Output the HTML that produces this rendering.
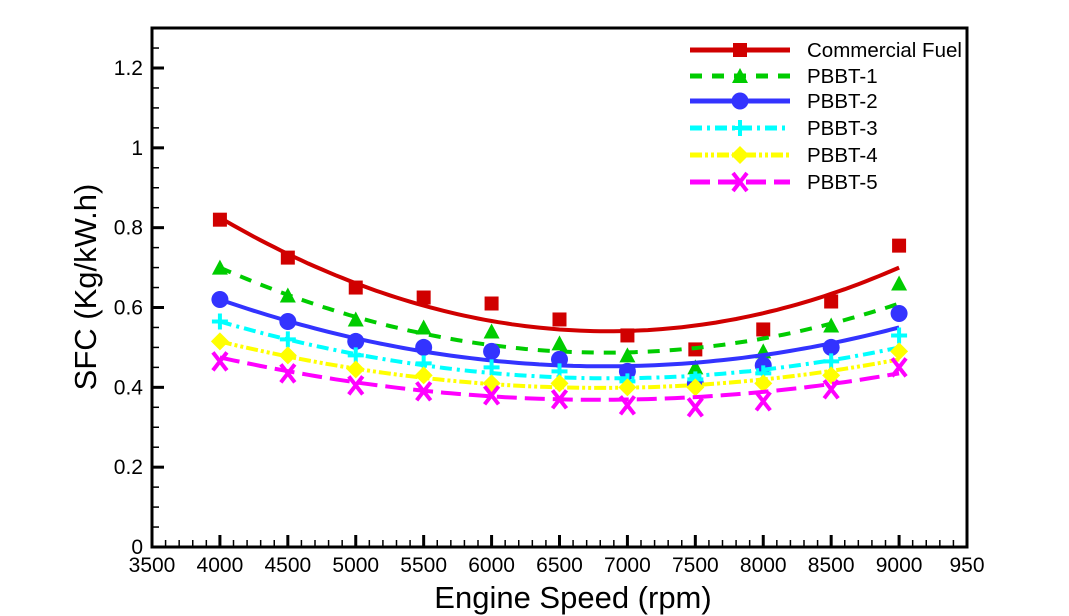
<!DOCTYPE html>
<html><head><meta charset="utf-8"><style>body{margin:0;background:#fff}svg{display:block}text{font-family:"Liberation Sans",Arial,sans-serif}</style></head>
<body>
<svg id="s" width="1069" height="616" xmlns="http://www.w3.org/2000/svg"></svg>
<script>
var s=document.getElementById('s'),h='';
var L=152,R=967,T=28,B=547;
function X(v){return L+(v-3500)*(R-L)/6000}
function Y(v){return B-v*(B-68)/1.2}
for(var x=3500;x<=9500;x+=100){var maj=x%500==0;h+='<line x1="'+X(x)+'" x2="'+X(x)+'" y1="'+B+'" y2="'+(B-(maj?12:7))+'" stroke="#000" stroke-width="'+(maj?3:1.5)+'"/>';}
for(var i=0;i<=26;i++){var v=i*0.05,maj=i%4==0,y=Y(v);if(y<T)break;h+='<line x1="'+L+'" x2="'+(L+(maj?12:7))+'" y1="'+y+'" y2="'+y+'" stroke="#000" stroke-width="'+(maj?3:1.5)+'"/>';}
var yl=['0','0.2','0.4','0.6','0.8','1','1.2'];
for(var i=0;i<7;i++)h+='<text x="143" y="'+(Y(i*0.2)+7)+'" font-size="21" text-anchor="end">'+yl[i]+'</text>';
for(var x=3500;x<=9500;x+=500)h+='<text x="'+X(x)+'" y="572" font-size="21" text-anchor="middle">'+(x==9500?'950':x)+'</text>';
h+='<text x="573" y="608" font-size="31" text-anchor="middle">Engine Speed (rpm)</text>';
h+='<text transform="translate(96,287) rotate(-90)" font-size="31" text-anchor="middle">SFC (Kg/kW.h)</text>';
var S=[
{c:'#d00000',d:'',m:'sq',k:[0.825,0.545,0.70],p:[0.82,0.725,0.65,0.625,0.61,0.57,0.53,0.495,0.545,0.615,0.755],n:'Commercial Fuel'},
{c:'#00cc00',d:'12,10',m:'tri',k:[0.70,0.49,0.61],p:[0.70,0.63,0.57,0.55,0.54,0.51,0.48,0.45,0.49,0.555,0.66],n:'PBBT-1'},
{c:'#3333ff',d:'',m:'ci',k:[0.62,0.455,0.55],p:[0.62,0.565,0.515,0.50,0.49,0.47,0.44,0.41,0.455,0.50,0.585],n:'PBBT-2'},
{c:'#00ffff',d:'12,5,3,5',m:'pl',k:[0.565,0.425,0.50],p:[0.565,0.52,0.48,0.46,0.45,0.44,0.415,0.42,0.435,0.465,0.53],n:'PBBT-3'},
{c:'#ffff00',d:'12,3,3,3,3,3',m:'di',k:[0.515,0.40,0.47],p:[0.515,0.48,0.445,0.43,0.41,0.41,0.40,0.40,0.41,0.43,0.49],n:'PBBT-4'},
{c:'#ff00ff',d:'20,8',m:'x',k:[0.475,0.37,0.435],p:[0.465,0.435,0.405,0.39,0.38,0.37,0.355,0.35,0.365,0.395,0.45],n:'PBBT-5'}];
function mk(t,x,y,c){
 if(t=='sq')return '<rect x="'+(x-7)+'" y="'+(y-7)+'" width="14" height="14" fill="'+c+'"/>';
 if(t=='tri')return '<polygon points="'+x+','+(y-8)+' '+(x-8)+','+(y+7)+' '+(x+8)+','+(y+7)+'" fill="'+c+'"/>';
 if(t=='ci')return '<circle cx="'+x+'" cy="'+y+'" r="8.5" fill="'+c+'"/>';
 if(t=='pl')return '<path d="M'+(x-8)+' '+y+'H'+(x+8)+'M'+x+' '+(y-8)+'V'+(y+8)+'" stroke="'+c+'" stroke-width="4"/>';
 if(t=='di')return '<polygon points="'+x+','+(y-9)+' '+(x+9)+','+y+' '+x+','+(y+9)+' '+(x-9)+','+y+'" fill="'+c+'"/>';
 return '<path d="M'+(x-7)+' '+(y-9)+'L'+(x+7)+' '+(y+9)+'M'+(x+7)+' '+(y-9)+'L'+(x-7)+' '+(y+9)+'" stroke="'+c+'" stroke-width="4"/>';
}
S.forEach(function(o,j){
 var a=o.k[0],b=o.k[1],c=o.k[2];
 var A=(a+c)/2-b,Bq=(c-a)/2,pts=[];
 for(var x=4000;x<=9000;x+=50){var t=(x-6500)/2500;pts.push(X(x).toFixed(1)+','+Y(A*t*t+Bq*t+b).toFixed(1));}
 h+='<polyline points="'+pts.join(' ')+'" fill="none" stroke="'+o.c+'" stroke-width="4"'+(o.d?' stroke-dasharray="'+o.d+'"':'')+'/>';
 o.p.forEach(function(v,i){h+=mk(o.m,X(4000+i*500),Y(v),o.c);});
 var ly=[50,76,101,128,155,182][j];
 h+='<line x1="690" x2="790" y1="'+ly+'" y2="'+ly+'" stroke="'+o.c+'" stroke-width="5"'+(o.d?' stroke-dasharray="'+o.d+'"':'')+'/>';
 h+=mk(o.m,740,ly,o.c);
 h+='<text x="807" y="'+(ly+7)+'" font-size="20.5">'+o.n+'</text>';
});
h+='<rect x="'+L+'" y="'+T+'" width="'+(R-L)+'" height="'+(B-T)+'" fill="none" stroke="#000" stroke-width="3"/>';
s.innerHTML=h;
</script>
</body></html>
